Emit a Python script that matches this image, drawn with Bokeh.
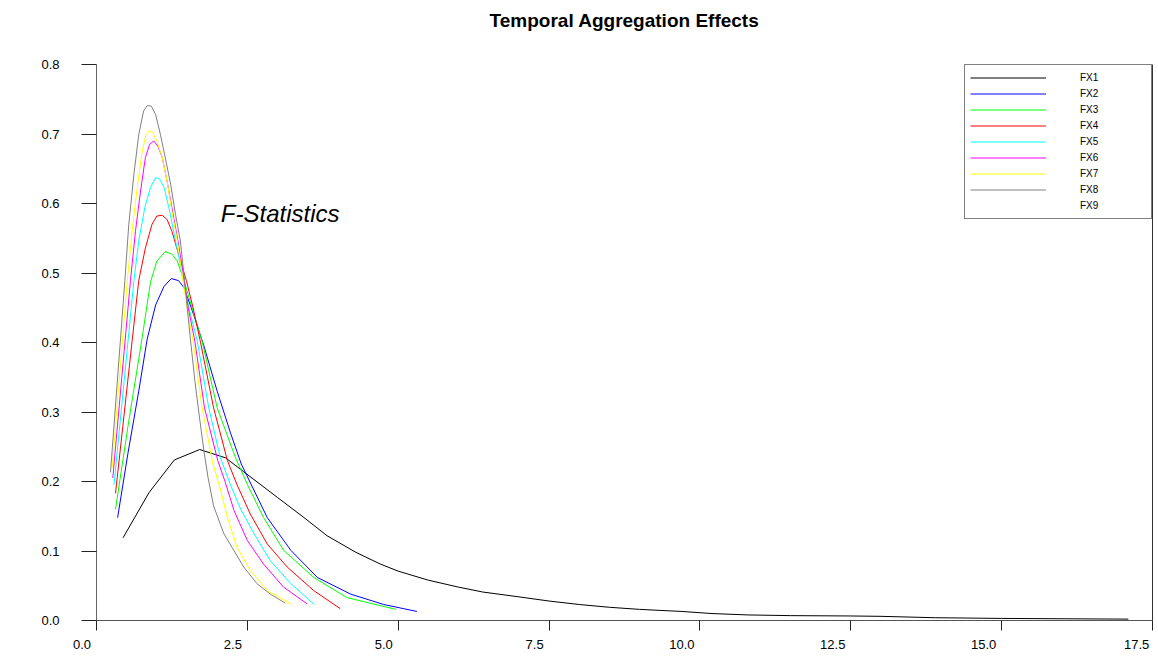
from bokeh.plotting import figure
from bokeh.models import (Range1d, FixedTicker, NumeralTickFormatter, Label, Legend, LegendItem,
                          LinearAxis, Title)
from bokeh.embed import file_html
from bokeh.resources import INLINE

FONT = "Liberation Sans"

title_text = "Temporal Aggregation Effects"
annotation_text = "F-Statistics"

xtick_values = [0.0, 2.5, 5.0, 7.5, 10.0, 12.5, 15.0, 17.5]
xtick_labels = ["0.0", "2.5", "5.0", "7.5", "10.0", "12.5", "15.0", "17.5"]
ytick_values = [0.0, 0.1, 0.2, 0.3, 0.4, 0.5, 0.6, 0.7, 0.8]

series_names = ["FX1", "FX2", "FX3", "FX4", "FX5", "FX6", "FX7", "FX8", "FX9"]

fx1_x = [0.44, 0.87, 1.29, 1.71, 2.14, 2.44, 3.00, 3.44, 3.82, 4.30, 4.71, 5.00, 5.50, 6.00, 6.40,
         7.00, 7.50, 8.00, 8.50, 9.00, 9.70, 10.20, 10.80, 11.50, 12.50, 13.00, 13.90, 15.00, 16.00, 17.10]
fx1_y = [0.119, 0.184, 0.231, 0.246, 0.234, 0.214, 0.177, 0.148, 0.122, 0.098, 0.081, 0.071, 0.058, 0.048, 0.041,
         0.034, 0.028, 0.023, 0.019, 0.016, 0.013, 0.010, 0.008, 0.007, 0.0065, 0.006, 0.004, 0.003, 0.0025, 0.002]

fx2_x = [0.35, 0.52, 0.70, 0.84, 0.98, 1.12, 1.24, 1.36, 1.45, 1.61, 1.78, 2.00, 2.22, 2.40, 2.83, 3.22,
         3.66, 4.21, 4.76, 5.31]
fx2_y = [0.148, 0.240, 0.330, 0.405, 0.454, 0.481, 0.492, 0.489, 0.479, 0.440, 0.395, 0.330, 0.270, 0.225, 0.148,
         0.101, 0.062, 0.038, 0.023, 0.013]

fx3_x = [0.315, 0.535, 0.757, 0.895, 1.00, 1.14, 1.25, 1.34, 1.45, 1.60, 1.75, 2.00, 2.30, 2.52, 2.77, 3.10,
         3.60, 4.15, 4.96]
fx3_y = [0.160, 0.287, 0.407, 0.487, 0.517, 0.531, 0.527, 0.517, 0.489, 0.445, 0.402, 0.306, 0.235, 0.192, 0.148,
         0.101, 0.062, 0.033, 0.016]

fx4_x = [0.315, 0.59, 0.70, 0.81, 0.92, 1.00, 1.09, 1.17, 1.25, 1.36, 1.49, 1.60, 1.72, 1.94, 2.17, 2.33, 2.55,
         2.83, 3.16, 3.60, 4.04]
fx4_y = [0.183, 0.402, 0.489, 0.536, 0.570, 0.582, 0.583, 0.577, 0.560, 0.527, 0.489, 0.450, 0.402, 0.306, 0.230,
         0.195, 0.153, 0.110, 0.077, 0.043, 0.017]

fx5_x = [0.29, 0.62, 0.70, 0.80, 0.895, 0.98, 1.04, 1.12, 1.20, 1.31, 1.41, 1.53, 1.67, 1.86, 2.05, 2.22, 2.39,
         2.61, 2.88, 3.22, 3.61]
fx5_y = [0.195, 0.489, 0.546, 0.594, 0.623, 0.637, 0.636, 0.623, 0.594, 0.546, 0.503, 0.450, 0.402, 0.306, 0.235,
         0.195, 0.160, 0.125, 0.086, 0.053, 0.023]

fx6_x = [0.27, 0.563, 0.646, 0.73, 0.81, 0.88, 0.95, 1.02, 1.09, 1.17, 1.25, 1.35, 1.43, 1.52, 1.63, 1.79, 2.01,
         2.13, 2.28, 2.50, 2.77, 3.10, 3.49]
fx6_y = [0.205, 0.489, 0.560, 0.618, 0.666, 0.685, 0.690, 0.682, 0.666, 0.632, 0.594, 0.546, 0.503, 0.450, 0.402,
         0.306, 0.230, 0.200, 0.158, 0.115, 0.081, 0.048, 0.024]

fx7_x = [0.26, 0.51, 0.59, 0.675, 0.757, 0.82, 0.88, 0.93, 1.00, 1.09, 1.17, 1.25, 1.34, 1.41, 1.50, 1.60, 1.75,
         1.93, 2.05, 2.17, 2.33, 2.55, 2.83, 3.22]
fx7_y = [0.220, 0.489, 0.560, 0.623, 0.675, 0.699, 0.705, 0.702, 0.690, 0.666, 0.632, 0.589, 0.546, 0.503, 0.450,
         0.402, 0.306, 0.225, 0.190, 0.148, 0.105, 0.072, 0.043, 0.024]

fx8_x = [0.232, 0.47, 0.535, 0.62, 0.70, 0.78, 0.84, 0.91, 0.98, 1.06, 1.14, 1.23, 1.31, 1.39, 1.47, 1.55, 1.63,
         1.71, 1.78, 1.85, 1.94, 2.11, 2.275, 2.44, 2.66, 2.88, 3.13]
fx8_y = [0.213, 0.489, 0.570, 0.642, 0.699, 0.733, 0.741, 0.740, 0.728, 0.699, 0.666, 0.627, 0.584, 0.546, 0.480,
         0.410, 0.345, 0.290, 0.244, 0.205, 0.165, 0.125, 0.101, 0.077, 0.053, 0.038, 0.025]

fx9_x = []
fx9_y = []

series_x = [fx1_x, fx2_x, fx3_x, fx4_x, fx5_x, fx6_x, fx7_x, fx8_x, fx9_x]
series_y = [fx1_y, fx2_y, fx3_y, fx4_y, fx5_y, fx6_y, fx7_y, fx8_y, fx9_y]
colors = ["#000000", "#0000FF", "#00FF00", "#FF0000", "#00FFFF", "#FF00FF", "#FFFF00", "#808080", "#FFFFFF"]

p = figure(width=1156, height=655, x_range=Range1d(0, 17.5), y_range=Range1d(0, 0.8),
           output_backend="svg", toolbar_location=None,
           min_border_left=96, min_border_right=4, min_border_top=64, min_border_bottom=35)

p.title.text = title_text
p.title.align = "center"
p.title.vertical_align = "bottom"
p.title.text_font = FONT
p.title.text_font_size = "19px"
p.title.text_font_style = "bold"
p.title.text_color = "#000000"
p.title.standoff = 10

# spacer between the plot area and the title (keeps the title near the top of the page)
p.add_layout(Title(text=" ", text_font_size="10px", standoff=16), "above")

p.grid.visible = False
p.outline_line_color = None
p.background_fill_color = "white"
p.border_fill_color = "white"

items = []
for xs, ys, name, color in zip(series_x, series_y, series_names, colors):
    r = p.line(xs, ys, line_color=color, line_width=1)
    items.append(LegendItem(label=name, renderers=[r]))

legend = Legend(items=items, location="top_right", margin=0, padding=5, spacing=1,
                glyph_width=76, glyph_height=15, label_height=15, label_width=66,
                label_standoff=34, label_text_font=FONT, label_text_font_size="10px",
                label_text_color="#000000", border_line_color="#000000", border_line_width=1,
                background_fill_color="white", background_fill_alpha=1.0)
p.add_layout(legend)

# x axis: labels sit a little to the left of their ticks, as in the original
NBSP = "\u00a0"
x_overrides = {}
for i, (v, lab) in enumerate(zip(xtick_values, xtick_labels)):
    key = int(v) if float(v).is_integer() else v
    pad = 2 if i == len(xtick_values) - 1 else 2 * len(lab) + 2
    x_overrides[key] = lab + NBSP * pad

xa = p.xaxis[0]
xa.ticker = FixedTicker(ticks=xtick_values)
xa.major_label_overrides = x_overrides
xa.bounds = (-0.25, 17.5)
xa.major_tick_out = 10
xa.major_tick_in = 0
xa.minor_tick_line_color = None
xa.axis_line_color = "#555555"
xa.major_tick_line_color = "#222222"
xa.major_label_standoff = 6
xa.major_label_text_font = FONT
xa.major_label_text_font_size = "13px"
xa.major_label_text_color = "#000000"

# y axis
ya = p.yaxis[0]
ya.ticker = FixedTicker(ticks=ytick_values)
ya.formatter = NumeralTickFormatter(format="0.0")
ya.bounds = (-0.022, 0.8)
ya.major_tick_out = 15
ya.major_tick_in = 0
ya.minor_tick_line_color = None
ya.axis_line_color = "#666666"
ya.major_tick_line_color = "#222222"
ya.major_label_standoff = 22
ya.major_label_text_font = FONT
ya.major_label_text_font_size = "13px"
ya.major_label_text_color = "#000000"

# right frame line
ra = LinearAxis(ticker=FixedTicker(ticks=[]), major_tick_line_color=None, minor_tick_line_color=None,
                major_tick_out=0, major_tick_in=0, major_label_standoff=0,
                axis_line_color="#333333", axis_line_width=1)
p.add_layout(ra, "right")

p.add_layout(Label(x=2.06, y=0.586, text=annotation_text, text_font=FONT, text_font_size="24px",
                   text_font_style="italic", text_color="#000000", text_baseline="alphabetic"))

open("out.html", "w").write(file_html(p, INLINE))
